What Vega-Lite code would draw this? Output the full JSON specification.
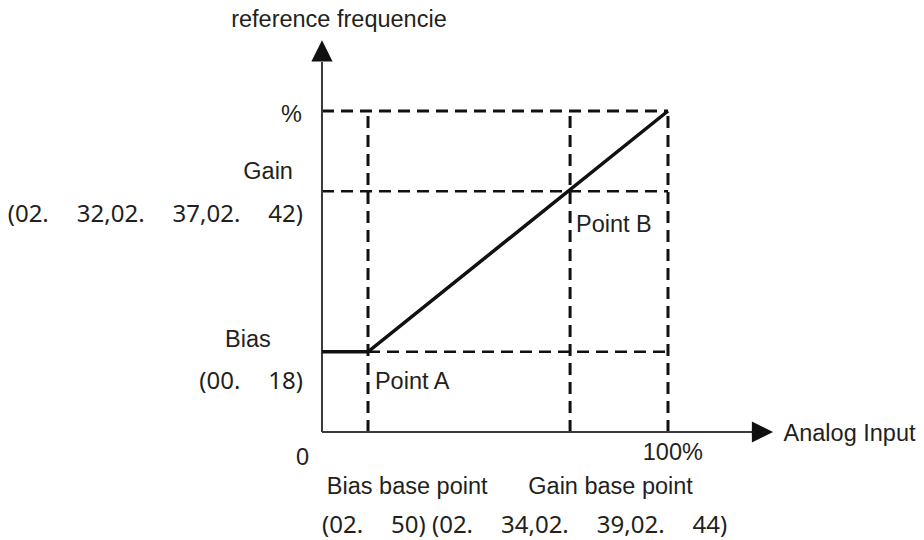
{
  "$schema": "https://vega.github.io/schema/vega-lite/v6.json",
  "width": 924,
  "height": 540,
  "padding": 0,
  "autosize": {"type": "fit", "contains": "padding"},
  "background": "white",
  "config": {"view": {"stroke": null}},
  "datasets": {
    "axes": [
      {"x": 0, "x2": 124.3, "y": 0, "y2": 0},
      {"x": 0, "x2": 0, "y": 0, "y2": 115.3}
    ],
    "heads": [
      {"x": 127.3, "y": 0, "dir": "right"},
      {"x": 0, "y": 118.7, "dir": "up"}
    ],
    "dashed": [
      {"x": 0, "x2": 100, "y": 100, "y2": 100, "w": 3},
      {"x": 0, "x2": 100, "y": 75, "y2": 75, "w": 2.5},
      {"x": 13.3, "x2": 100, "y": 25, "y2": 25, "w": 2.5},
      {"x": 13.3, "x2": 13.3, "y": 0, "y2": 100, "w": 3},
      {"x": 71.7, "x2": 71.7, "y": 0, "y2": 100, "w": 3},
      {"x": 100, "x2": 100, "y": 0, "y2": 100, "w": 3}
    ],
    "curve": [
      {"x": 0, "y": 25, "o": 1},
      {"x": 13.3, "y": 25, "o": 2},
      {"x": 100, "y": 100, "o": 3}
    ],
    "textCenter": [
      {"x": 4.9, "y": 126.2, "label": "reference frequencie"},
      {"x": -21.4, "y": 26.5, "label": "Bias"},
      {"x": -5.6, "y": -10.3, "label": "0"},
      {"x": 101.4, "y": -8.7, "label": "100%"}
    ],
    "textRight": [
      {"x": -5.8, "y": 96.6, "label": "%"},
      {"x": -8.4, "y": 78.8, "label": "Gain"},
      {"x": 107.2, "y": -19.3, "label": "Gain base point"}
    ],
    "textLeft": [
      {"x": 15.3, "y": 13.4, "label": "Point A"},
      {"x": 73.4, "y": 62.3, "label": "Point B"},
      {"x": 133.4, "y": -2.8, "label": "Analog Input"},
      {"x": 1.4, "y": -19.3, "label": "Bias base point"}
    ],
    "codeRight": [
      {"x": -5.5, "y": 65.4, "label": "(02.\u2003\u200932,02.\u2003\u200937,02.\u2003\u200942)"},
      {"x": -5.5, "y": 13.4, "label": "(00.\u2003\u200918)"}
    ],
    "codeLeft": [
      {"x": 0, "y": -31.5, "label": "(02.\u2003\u200950)\u00a0(02.\u2003\u200934,02.\u2003\u200939,02.\u2003\u200944)"}
    ]
  },
  "encoding": {
    "x": {"field": "x", "type": "quantitative", "scale": {"domain": [-93.06, 173.99], "nice": false, "zero": false}, "axis": null},
    "y": {"field": "y", "type": "quantitative", "scale": {"domain": [-33.64, 134.58], "nice": false, "zero": false}, "axis": null}
  },
  "layer": [
    {
      "data": {"name": "dashed"},
      "mark": {"type": "rule", "color": "#111111", "strokeDash": [12, 7]},
      "encoding": {
        "x2": {"field": "x2"},
        "y2": {"field": "y2"},
        "strokeWidth": {"field": "w", "type": "quantitative", "scale": null}
      }
    },
    {
      "data": {"name": "axes"},
      "mark": {"type": "rule", "color": "#3a3a3a", "strokeWidth": 2},
      "encoding": {
        "x2": {"field": "x2"},
        "y2": {"field": "y2"}
      }
    },
    {
      "data": {"name": "heads"},
      "mark": {"type": "point", "filled": true, "color": "#111111", "opacity": 1, "size": 450},
      "encoding": {
        "shape": {"field": "dir", "type": "nominal", "scale": {"domain": ["right", "up"], "range": ["M-1,-1L1,0L-1,1Z", "M-1,1L0,-1L1,1Z"]}, "legend": null}
      }
    },
    {
      "data": {"name": "curve"},
      "mark": {"type": "line", "color": "#111111", "strokeWidth": 3.5},
      "encoding": {
        "order": {"field": "o", "type": "quantitative"}
      }
    },
    {
      "data": {"name": "textCenter"},
      "mark": {"type": "text", "font": "Liberation Sans", "fontSize": 23.5, "align": "center", "baseline": "alphabetic", "color": "#231f20"},
      "encoding": {"text": {"field": "label"}}
    },
    {
      "data": {"name": "textRight"},
      "mark": {"type": "text", "font": "Liberation Sans", "fontSize": 23.5, "align": "right", "baseline": "alphabetic", "color": "#231f20"},
      "encoding": {"text": {"field": "label"}}
    },
    {
      "data": {"name": "textLeft"},
      "mark": {"type": "text", "font": "Liberation Sans", "fontSize": 23.5, "align": "left", "baseline": "alphabetic", "color": "#231f20"},
      "encoding": {"text": {"field": "label"}}
    },
    {
      "data": {"name": "codeRight"},
      "mark": {"type": "text", "font": "Noto Sans", "fontSize": 24, "align": "right", "baseline": "alphabetic", "color": "#231f20"},
      "encoding": {"text": {"field": "label"}}
    },
    {
      "data": {"name": "codeLeft"},
      "mark": {"type": "text", "font": "Noto Sans", "fontSize": 24, "align": "left", "baseline": "alphabetic", "color": "#231f20"},
      "encoding": {"text": {"field": "label"}}
    }
  ]
}
